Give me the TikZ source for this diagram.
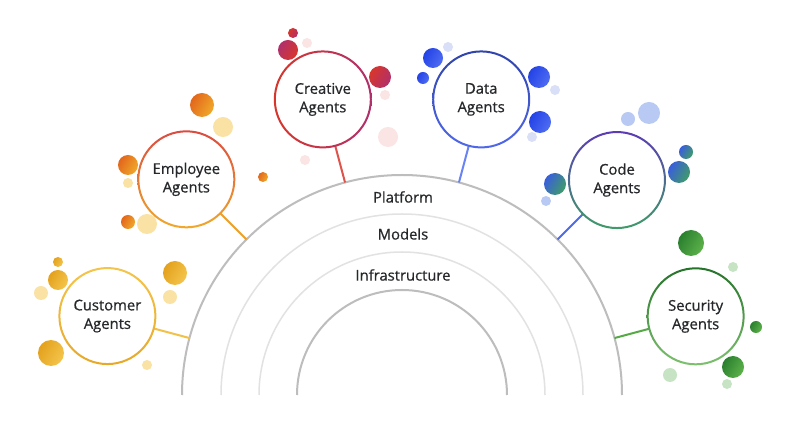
\documentclass[tikz,border=0pt]{standalone}
\usepackage{fontspec}
\setmainfont{Open Sans}
\newfontfamily\gsans[FakeBold=0.7]{Open Sans}
\usetikzlibrary{calc}
\definecolor{txt}{HTML}{26282B}
\definecolor{arcdark}{HTML}{BDBDBD}
\definecolor{arclight}{HTML}{E2E2E2}
\definecolor{goldA}{HTML}{E3A11D}
\definecolor{goldB}{HTML}{F4C54C}
\definecolor{paleY}{HTML}{FAE2A4}
\definecolor{oranA}{HTML}{E2661C}
\definecolor{oranB}{HTML}{F0A92A}
\definecolor{redA}{HTML}{D8362B}
\definecolor{redB}{HTML}{B0306C}
\definecolor{paleR}{HTML}{FBE4E4}
\definecolor{bluA}{HTML}{2443E6}
\definecolor{bluB}{HTML}{4F6DF2}
\definecolor{lav}{HTML}{D8DFF7}
\definecolor{ltblue}{HTML}{B8C9F4}
\definecolor{bgA}{HTML}{3A5EDC}
\definecolor{bgB}{HTML}{3F9C68}
\definecolor{grnA}{HTML}{2A7F2F}
\definecolor{grnB}{HTML}{5DB24A}
\definecolor{ltgrn}{HTML}{C6E4C4}
\tikzset{
  agent/.style={circle, minimum size=96, inner sep=0, fill=white, align=center,
    text=txt, font=\gsans\fontsize{14.8}{18.5}\selectfont},
  layer/.style={text=txt, font=\gsans\fontsize{14.8}{17}\selectfont},
  conn/.style={line width=2},
  outerarc/.style={draw=arcdark, line width=2},
  midarc/.style={draw=arclight, line width=1.5},
}
\newcommand\bub[5]{\shade[left color=#4, right color=#5, shading angle=60] (#1,#2) circle (#3);}
\newcommand\pale[4]{\fill[#4] (#1,#2) circle (#3);}
\begin{document}
\begin{tikzpicture}[x=1pt,y=1pt]
\useasboundingbox (0,0) rectangle (800,436);
\fill[white] (0,0) rectangle (800,436);
\coordinate (O) at (402,41);
% layered arcs
\draw[outerarc] ($(O)+(180:220)$) arc[start angle=180,end angle=0,radius=220];
\draw[midarc] ($(O)+(180:181)$) arc[start angle=180,end angle=0,radius=181];
\draw[midarc] ($(O)+(180:143)$) arc[start angle=180,end angle=0,radius=143];
\draw[outerarc] ($(O)+(180:105)$) arc[start angle=180,end angle=0,radius=105];
\node[layer] (platform) at (403,239) {Platform};
\node[layer] (models) at (403,202) {Models};
\node[layer] (infra) at (403,161) {Infrastructure};
% agent nodes
\node[agent] (cust) at ($(O)+(165:305)$) {Customer\\Agents};
\node[agent] (empl) at ($(O)+(135:305)$) {Employee\\Agents};
\node[agent] (crea) at ($(O)+(105:306)$) {Creative\\Agents};
\node[agent] (data) at ($(O)+(75:306)$) {Data\\Agents};
\node[agent] (code) at ($(O)+(45:304)$) {Code\\Agents};
\node[agent] (secu) at ($(O)+(15:304)$) {Security\\Agents};
% connector end points on the outer arc
\coordinate (custA) at ($(O)+(165:220)$);
\coordinate (emplA) at ($(O)+(135:220)$);
\coordinate (creaA) at ($(O)+(105:220)$);
\coordinate (dataA) at ($(O)+(75:220)$);
\coordinate (codeA) at ($(O)+(45:220)$);
\coordinate (secuA) at ($(O)+(15:220)$);
\draw[conn, draw=goldB!90!goldA] (cust) -- (custA);
\draw[conn, draw=oranB!85!oranA] (empl) -- (emplA);
\draw[conn, draw=redA!85!white] (crea) -- (creaA);
\draw[conn, draw=bluB!85!white] (data) -- (dataA);
\draw[conn, draw=bluB!80!bgA] (code) -- (codeA);
\draw[conn, draw=grnB!85!grnA] (secu) -- (secuA);
% bubbles: customer
\bub{58}{174}{5}{goldA}{goldB}
\bub{58}{156}{10}{goldA}{goldB}
\pale{41}{143}{7}{paleY}
\bub{175}{163}{12}{goldA}{goldB}
\pale{170}{139}{7}{paleY}
\bub{51}{83}{13}{goldA}{goldB}
\pale{147}{71}{5}{paleY}
% employee
\bub{202}{331}{12}{oranA}{oranB}
\pale{223}{309}{10}{paleY}
\bub{128}{271}{10}{oranA}{oranB}
\pale{128}{253}{5}{paleY}
\bub{128}{214}{7}{oranA}{oranB}
\pale{147}{212}{10}{paleY}
\bub{263}{259}{5}{oranA}{oranB}
% creative
\bub{293}{403}{5}{redA}{redB}
\bub{288}{386}{10}{redB}{redA}
\pale{307}{393}{5}{paleR}
\bub{380}{359}{11}{redA}{redB}
\pale{385}{341}{5}{paleR}
\pale{388}{299}{10}{paleR}
\pale{305}{276}{5}{paleR}
% data
\bub{433}{378}{10}{bluA}{bluB}
\pale{448}{389}{5}{lav}
\bub{423}{358}{6}{bluA}{bluB}
\bub{539}{359}{11}{bluA}{bluB}
\pale{555}{346}{5}{lav}
\bub{540}{314}{11}{bluA}{bluB}
\pale{532}{299}{5}{lav}
% code
\pale{628}{317}{7}{ltblue}
\pale{649}{323}{11}{ltblue}
\bub{686}{284}{7}{bgA}{bgB}
\bub{679}{264}{11}{bgA}{bgB}
\bub{555}{252}{11}{bgA}{bgB}
\pale{546}{235}{5}{ltblue}
% security
\bub{691}{193}{13}{grnA}{grnB}
\pale{733}{169}{5}{ltgrn}
\bub{756}{109}{6}{grnA}{grnB}
\bub{733}{69}{11}{grnA}{grnB}
\pale{670}{61}{7}{ltgrn}
\pale{727}{52}{5}{ltgrn}
% gradient rings
\shade[even odd rule, top color=goldB, bottom color=goldA!80!goldB] (cust) circle (49) (cust) circle (47);
\shade[even odd rule, top color=redA!90!white, bottom color=oranB] (empl) circle (49) (empl) circle (47);
\shade[even odd rule, left color=redA, right color=redB] (crea) circle (49) (crea) circle (47);
\shade[even odd rule, top color=bluA!70!black!90, bottom color=bluA!80!white] (data) circle (49) (data) circle (47);
\shade[even odd rule, top color=bluA!60!redB, middle color=bluA!80!white, bottom color=bgB] (code) circle (49) (code) circle (47);
\shade[even odd rule, top color=grnA!90!black, bottom color=grnB!80!white] (secu) circle (49) (secu) circle (47);
\end{tikzpicture}
\end{document}
